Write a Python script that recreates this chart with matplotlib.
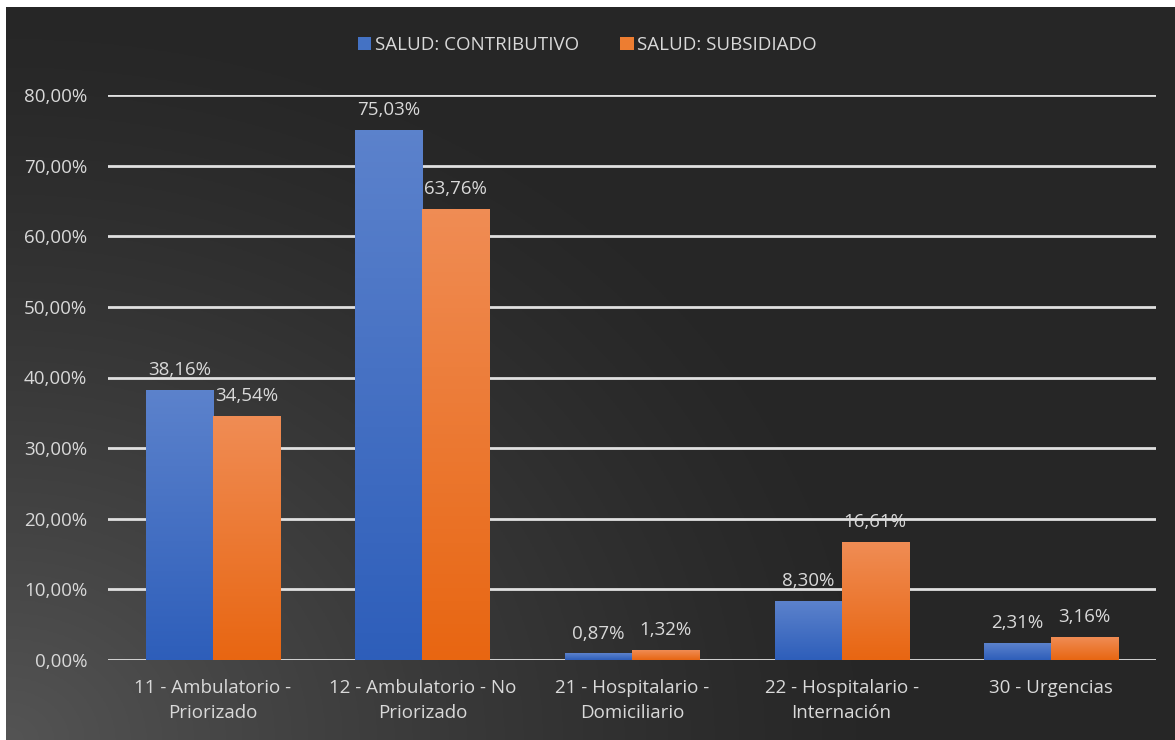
import matplotlib.pyplot as plt
import numpy as np

# data ---------------------------------------------------------------
categories = ["11 - Ambulatorio -\nPriorizado", "12 - Ambulatorio - No\nPriorizado",
              "21 - Hospitalario -\nDomiciliario", "22 - Hospitalario -\nInternación",
              "30 - Urgencias"]
contributivo = [38.16, 75.03, 0.87, 8.30, 2.31]
subsidiado = [34.54, 63.76, 1.32, 16.61, 3.16]
series_names = ["SALUD: CONTRIBUTIVO", "SALUD: SUBSIDIADO"]
yticks = [0, 10, 20, 30, 40, 50, 60, 70, 80]

plt.rcParams['font.family'] = ['Open Sans', 'DejaVu Sans']
txt = '#d9d9d9'
fs = 13.5

fig = plt.figure(figsize=(11.75, 7.4), dpi=100, facecolor='white')

# dark background with lighter glow in the lower-left corner
bg = fig.add_axes([6 / 1175, 0, 1 - 6 / 1175, 1 - 7 / 740])
bg.set_axis_off()
h, w = 300, 480
yy, xx = np.mgrid[0:h, 0:w]
d = np.sqrt((xx / w * 1.45) ** 2 + ((h - yy) / h * 1.1) ** 2)
glow = np.clip(1 - d / 1.1, 0, 1) ** 1.3
shade = 0.15 + 0.18 * glow
bg.imshow(np.dstack([shade] * 3), aspect='auto', extent=[0, 1, 0, 1], origin='upper')
bg.set_xlim(0, 1)
bg.set_ylim(0, 1)

ax = fig.add_axes([108 / 1175, 1 - 660 / 740, (1156 - 108) / 1175, (660 - 95) / 740])
ax.patch.set_alpha(0)

x = np.arange(len(categories))
bw = 0.32
b1 = ax.bar(x - bw / 2, contributivo, bw, color='#4472c4', label=series_names[0], zorder=3)
b2 = ax.bar(x + bw / 2, subsidiado, bw, color='#ed7d31', label=series_names[1], zorder=3)


def grad_fill(bars, top, bottom):
    g = np.linspace(0, 1, 100)[:, None]
    top = np.array(top)
    bottom = np.array(bottom)
    img = top[None, None, :] * (1 - g[..., None]) + bottom[None, None, :] * g[..., None]
    for b in bars:
        b.set_facecolor('none')
        x0, y0 = b.get_x(), b.get_y()
        ax.imshow(img, extent=[x0, x0 + b.get_width(), y0, y0 + b.get_height()],
                  aspect='auto', origin='upper', zorder=3)


grad_fill(b1, (0.36, 0.51, 0.80), (0.18, 0.37, 0.73))
grad_fill(b2, (0.94, 0.55, 0.33), (0.91, 0.40, 0.07))

for bars, vals in [(b1, contributivo), (b2, subsidiado)]:
    for b, v in zip(bars, vals):
        ax.text(b.get_x() + b.get_width() / 2, v + 1.6, f"{v:.2f}%".replace('.', ','),
                ha='center', va='bottom', color=txt, fontsize=fs, zorder=4)

ax.set_xlim(-0.5, len(categories) - 0.5)
ax.set_ylim(0, 80)
ax.set_yticks(yticks)
ax.set_yticklabels([f"{t:.2f}%".replace('.', ',') for t in yticks])
ax.set_xticks(x)
ax.set_xticklabels(categories, linespacing=1.45)
ax.tick_params(axis='y', length=0, pad=15, colors=txt, labelsize=fs)
ax.tick_params(axis='x', length=0, pad=14, colors=txt, labelsize=fs)
ax.grid(axis='y', color='#e0e0e0', linewidth=2, zorder=1)
for s in ax.spines.values():
    s.set_visible(False)

leg = fig.legend(handles=[b1, b2], loc='center', bbox_to_anchor=(0.5, 1 - 45 / 740), ncol=2,
                 frameon=False, fontsize=fs, handlelength=0.7, handleheight=0.7,
                 handletextpad=0.2, columnspacing=2.2, labelcolor=txt)
leg.legend_handles[0].set_facecolor('#4472c4')
leg.legend_handles[1].set_facecolor('#ed7d31')

plt.savefig("out.png", dpi=100, facecolor='white')
